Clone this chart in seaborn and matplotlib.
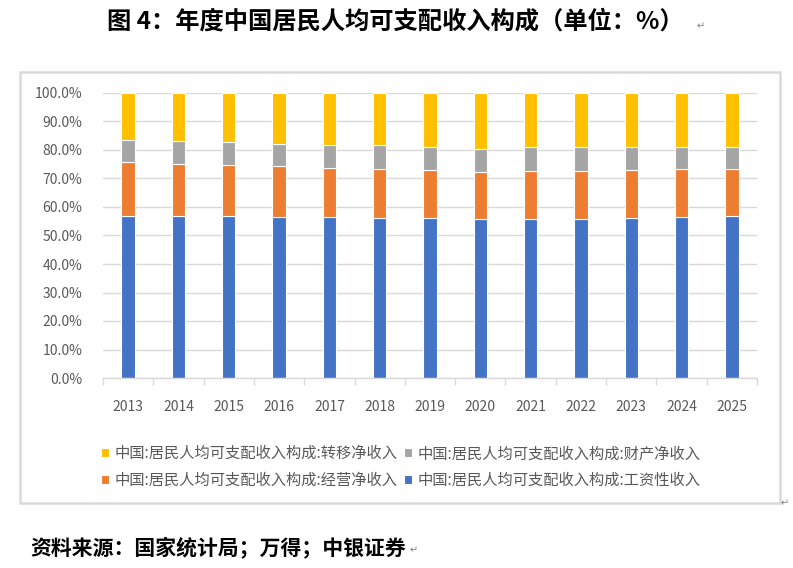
import matplotlib
matplotlib.use("Agg")
import matplotlib.pyplot as plt
from matplotlib.patches import Rectangle
from matplotlib.ticker import FuncFormatter, MultipleLocator
import seaborn as sns
import pandas as pd

sns.set_theme(style="white")
plt.rcParams['font.family'] = ['Noto Sans CJK SC', 'DejaVu Sans']

years = ["2013", "2014", "2015", "2016", "2017", "2018", "2019",
         "2020", "2021", "2022", "2023", "2024", "2025"]
wage = [56.7, 56.7, 56.7, 56.4, 56.4, 56.0, 56.0, 55.7, 55.7, 55.7, 56.0, 56.4, 56.7]
operating = [19.0, 18.3, 17.9, 17.9, 17.2, 17.2, 16.9, 16.5, 16.8, 16.8, 16.9, 16.8, 16.5]
prop = [7.7, 8.2, 8.1, 7.7, 8.0, 8.4, 8.3, 8.3, 8.7, 8.7, 8.3, 8.0, 8.0]
transfer = [16.6, 16.8, 17.3, 18.0, 18.4, 18.4, 18.8, 19.5, 18.8, 18.8, 18.8, 18.8, 18.8]

prefix = "中国:居民人均可支配收入构成:"
names = ["工资性收入", "经营净收入", "财产净收入", "转移净收入"]
colors = ["#4472C4", "#ED7D31", "#A5A5A5", "#FFC000"]
series = [wage, operating, prop, transfer]

fig = plt.figure(figsize=(7.93, 5.68), dpi=100)
W, H = 793, 568
ax = fig.add_axes([103 / W, 1 - 378 / H, (757 - 103) / W, (378 - 93) / H])

bottom = [0.0] * len(years)
for vals, col, nm in zip(series, colors, names):
    df = pd.DataFrame({"year": years, "val": vals})
    sns.barplot(data=df, x="year", y="val", order=years, color=col,
                bottom=bottom, width=0.265, ax=ax, edgecolor="white",
                linewidth=0.8, saturation=1, label=prefix + nm)
    bottom = [b + v for b, v in zip(bottom, vals)]

ax.set_xlim(-0.5, len(years) - 0.5)
ax.set_ylim(0, 100)
ax.yaxis.set_major_locator(MultipleLocator(10))
ax.yaxis.set_major_formatter(FuncFormatter(lambda v, p: f"{v:.1f}%"))
ax.grid(axis="y", color="#d9d9d9", linewidth=1)
ax.set_axisbelow(True)
for s in ["top", "right", "left"]:
    ax.spines[s].set_visible(False)
ax.spines["bottom"].set_color("#d9d9d9")
ax.spines["bottom"].set_linewidth(1)
ax.set_xlabel("")
ax.set_ylabel("")
ax.tick_params(axis="y", length=0, labelsize=10, labelcolor="#595959", pad=15)
ax.tick_params(axis="x", length=0, labelsize=10, labelcolor="#595959", pad=16)
ax.set_xticks([i - 0.5 for i in range(len(years) + 1)], minor=True)
ax.tick_params(axis="x", which="minor", length=5, color="#d9d9d9", width=1, bottom=True)
if ax.get_legend():
    ax.get_legend().remove()

# legend (row-major: 转移, 财产 / 经营, 工资)
handles, labels = ax.get_legend_handles_labels()
hmap = dict(zip(labels, handles))
order = [prefix + "转移净收入", prefix + "经营净收入", prefix + "财产净收入", prefix + "工资性收入"]
leg = fig.legend([hmap[o] for o in order], order, ncol=2,
                 loc="center left", bbox_to_anchor=(93 / W, 1 - 467 / H),
                 frameon=False, fontsize=11, labelcolor="#595959",
                 handlelength=0.55, handleheight=0.55, handletextpad=0.35,
                 columnspacing=0.4, labelspacing=0.62, borderpad=0)

# chart border
fig.patches.append(Rectangle((20 / W, 1 - 503 / H), (780 - 20) / W, (503 - 72) / H,
                             transform=fig.transFigure, fill=False,
                             edgecolor="#d9d9d9", linewidth=1.8))

fig.text(395 / W, 1 - 22 / H, "图 4：年度中国居民人均可支配收入构成（单位：%）",
         ha="center", va="center", fontsize=17.5, fontweight="bold", color="black")
fig.text(30 / W, 1 - 548 / H, "资料来源：国家统计局；万得；中银证券",
         ha="left", va="center", fontsize=15, fontweight="bold", color="black")

# paragraph marks
fig.text(701 / W, 1 - 26 / H, "↵", fontsize=7, color="#808080", ha="center", va="center",
         family="DejaVu Sans")
fig.text(785 / W, 1 - 503 / H, "↵", fontsize=7, color="#808080", ha="center", va="center",
         family="DejaVu Sans")
fig.text(414 / W, 1 - 550 / H, "↵", fontsize=7, color="#808080", ha="center", va="center",
         family="DejaVu Sans")

fig.savefig("out.png", dpi=100)
